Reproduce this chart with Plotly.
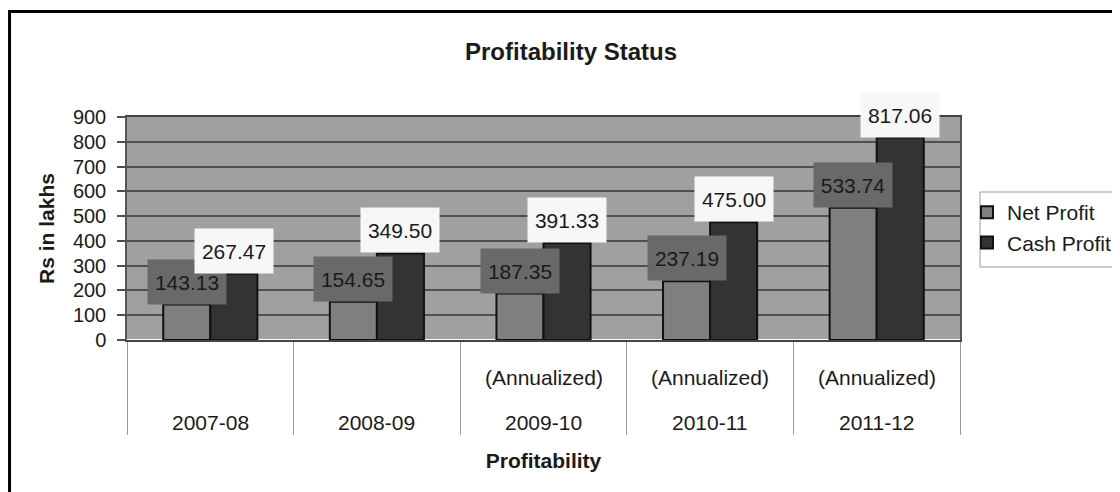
import plotly.graph_objects as go

categories = ["2007-08", "2008-09", "2009-10", "2010-11", "2011-12"]
notes = ["", "", "(Annualized)", "(Annualized)", "(Annualized)"]
net_profit = [143.13, 154.65, 187.35, 237.19, 533.74]
cash_profit = [267.47, 349.50, 391.33, 475.00, 817.06]
y_ticks = [0, 100, 200, 300, 400, 500, 600, 700, 800, 900]

FONT = "Liberation Sans, Arial, sans-serif"
TXT = "#1a1a1a"

fig = go.Figure()
fig.add_trace(go.Bar(name="Net Profit", x=categories, y=net_profit,
                     marker=dict(color="#7f7f7f", line=dict(color="#111111", width=2))))
fig.add_trace(go.Bar(name="Cash Profit", x=categories, y=cash_profit,
                     marker=dict(color="#333333", line=dict(color="#111111", width=2))))

ann = []
for c, v in zip(categories, net_profit):
    ann.append(dict(x=c, y=v, xref="x", yref="y", text=f"{v:.2f}", showarrow=False,
                    xshift=-23.5, yanchor="bottom", xanchor="center", width=76, height=42,
                    borderpad=1, bgcolor="#696969", font=dict(family=FONT, size=21, color=TXT)))
for c, v in zip(categories, cash_profit):
    ann.append(dict(x=c, y=v, xref="x", yref="y", text=f"{v:.2f}", showarrow=False,
                    xshift=23.5, yanchor="bottom", xanchor="center", width=76, height=42,
                    borderpad=1, bgcolor="#f7f7f7", font=dict(family=FONT, size=21, color=TXT)))
for c, n in zip(categories, notes):
    if n:
        ann.append(dict(x=c, y=-0.166, xref="x", yref="paper", text=n, showarrow=False,
                        yanchor="middle", font=dict(family=FONT, size=21, color=TXT)))
    ann.append(dict(x=c, y=-0.368, xref="x", yref="paper", text=c, showarrow=False,
                    yanchor="middle", font=dict(family=FONT, size=21, color=TXT)))

shapes = [
    dict(type="rect", xref="paper", yref="paper", x0=-0.141, x1=1.25, y0=-0.8, y1=1.473,
         line=dict(color="#000000", width=3), layer="below"),
    dict(type="rect", xref="paper", yref="paper", x0=(980 - 127) / 833, x1=1.3,
         y0=(340 - 267) / 223, y1=(340 - 192) / 223, fillcolor="white",
         line=dict(color="#9a9a9a", width=1), layer="below"),
]

fig.update_layout(
    width=1120, height=492,
    margin=dict(l=119, r=168, t=109, b=160, autoexpand=False),
    paper_bgcolor="white", plot_bgcolor="#a0a0a0",
    barmode="group", bargap=0.435, bargroupgap=0,
    font=dict(family=FONT, color=TXT, size=19),
    title=dict(text="Profitability Status", x=(571 - 8) / 1120, xanchor="center",
               xref="container", y=1 - (52 - 8) / 492, yref="container",
               yanchor="middle", font=dict(family=FONT, size=24, weight="bold", color=TXT)),
    xaxis=dict(type="category", showticklabels=False, tickson="boundaries", ticks="outside",
               ticklen=93, tickcolor="#9a9a9a", tickwidth=1, showgrid=False,
               showline=True, linecolor="#444444", linewidth=2, mirror=True,
               title=dict(text="Profitability", standoff=112,
                          font=dict(family=FONT, size=21, weight="bold", color=TXT))),
    yaxis=dict(range=[0, 900], tickvals=y_ticks, ticks="outside", ticklen=8,
               tickcolor="#505050", tickwidth=1.5, gridcolor="#505050", gridwidth=1.5,
               showline=True, linecolor="#555555", linewidth=1.5, mirror=True,
               tickfont=dict(family=FONT, size=20, color=TXT), ticklabelstandoff=7,
               title=dict(text="Rs in lakhs", standoff=13,
                          font=dict(family=FONT, size=21, weight="bold", color=TXT))),
    legend=dict(x=(967 - 127) / 833, xanchor="left", y=(340 - 192) / 223, yanchor="top",
                bgcolor="rgba(0,0,0,0)", borderwidth=0,
                font=dict(family=FONT, size=21, color=TXT), itemclick=False),
    annotations=ann, shapes=shapes, showlegend=True,
)

fig.write_html("out.html")
